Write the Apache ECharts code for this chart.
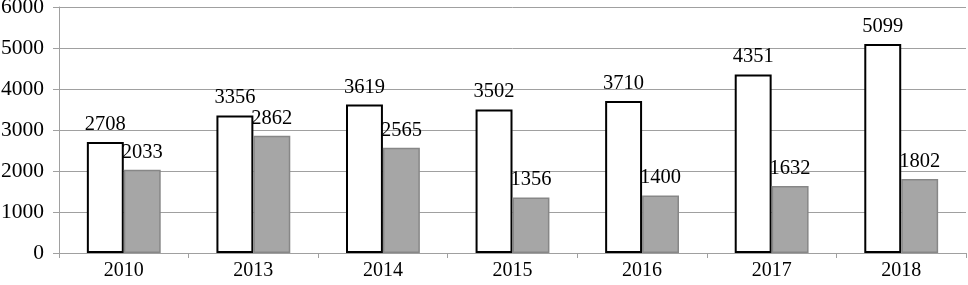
<!DOCTYPE html>
<html>
<head>
<meta charset="utf-8">
<script src="https://cdn.jsdelivr.net/npm/echarts@6/dist/echarts.min.js"></script>
<style>
html,body{margin:0;padding:0;background:#fff;}
#c{width:968px;height:285px;}
</style>
</head>
<body>
<div id="c"></div>
<script>
var categories = ['2010', '2013', '2014', '2015', '2016', '2017', '2018'];
var seriesA = [2708, 3356, 3619, 3502, 3710, 4351, 5099];
var seriesB = [2033, 2862, 2565, 1356, 1400, 1632, 1802];
var yTicks = [0, 1000, 2000, 3000, 4000, 5000, 6000];

var font = '"Liberation Serif", "Times New Roman", serif';
var chart = echarts.init(document.getElementById('c'));
chart.setOption({
  animation: false,
  backgroundColor: '#ffffff',
  grid: { left: 59, right: 2, top: 7, bottom: 32, containLabel: false, outerBoundsMode: 'none' },
  xAxis: {
    type: 'category',
    data: categories,
    axisLine: { lineStyle: { color: '#a0a0a0', width: 1 } },
    axisTick: { show: true, length: 5, lineStyle: { color: '#a0a0a0' } },
    axisLabel: { color: '#000', fontFamily: font, fontSize: 20, margin: 8 }
  },
  yAxis: {
    type: 'value',
    min: yTicks[0],
    max: yTicks[yTicks.length - 1],
    interval: 1000,
    axisLine: { show: true, lineStyle: { color: '#a0a0a0', width: 1 } },
    axisTick: { show: true, length: 6, lineStyle: { color: '#a0a0a0' } },
    splitLine: { show: true, lineStyle: { color: '#a0a0a0', width: 1 } },
    axisLabel: { color: '#000', fontFamily: font, fontSize: 21.5, margin: 15,
      formatter: function (v) { return String(v); } }
  },
  series: [
    {
      type: 'bar',
      data: seriesA,
      barGap: '0%',
      barCategoryGap: '43%',
      itemStyle: { color: '#ffffff', borderColor: '#000000', borderWidth: 2 },
      label: { show: true, position: 'top', distance: 7, color: '#000', fontFamily: font, fontSize: 20.5 }
    },
    {
      type: 'bar',
      data: seriesB,
      barGap: '0%',
      barCategoryGap: '43%',
      itemStyle: { color: '#a6a6a6', borderColor: '#878787', borderWidth: 1.5 },
      label: { show: true, position: 'top', distance: 7, color: '#000', fontFamily: font, fontSize: 20.5 }
    }
  ]
});
</script>
</body>
</html>
